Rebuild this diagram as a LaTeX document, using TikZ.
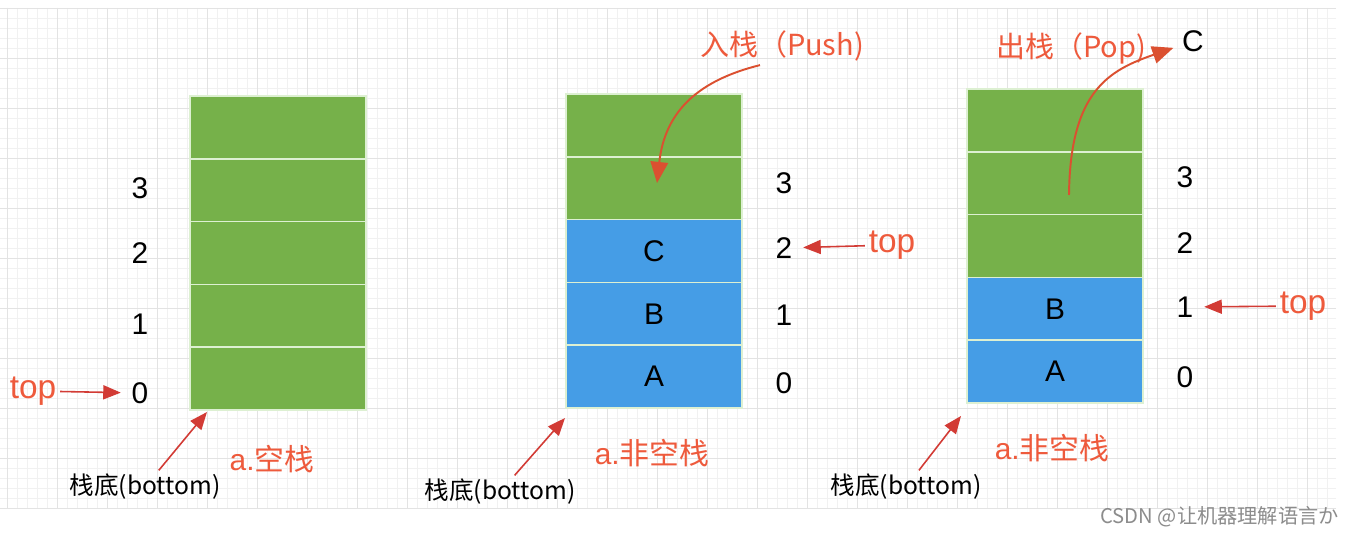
\documentclass[tikz,border=0pt]{standalone}
\usepackage{fontspec}
\setmainfont{Liberation Sans}
\newfontfamily\cjk{Noto Sans CJK SC}
\usetikzlibrary{arrows.meta,positioning}
\definecolor{Cell}{HTML}{76B14A}
\definecolor{Item}{HTML}{459DE6}
\definecolor{Seam}{HTML}{DDF0D2}
\definecolor{Hint}{HTML}{EE5A3C}
\definecolor{Tip}{HTML}{D23B35}
\definecolor{Curl}{HTML}{DB5030}
\definecolor{Grid}{HTML}{F1F1F1}
\definecolor{GridB}{HTML}{E3E3E3}
\definecolor{Mark}{HTML}{8C8C8C}
\tikzset{
  cell/.style={draw=Seam,line width=0.8pt,minimum width=3.52cm,minimum height=1.256cm,
    inner sep=0pt,font=\fontsize{17}{17}\selectfont},
  idx/.style={inner sep=2pt,font=\fontsize{17}{17}\selectfont},
  hint/.style={inner sep=2pt,text=Hint},
  ptr/.style={draw=Tip,line width=0.9pt,shorten >=4pt,-{Triangle[length=10pt,width=8pt]}},
  curl/.style={draw=Curl,line width=1.1pt,-{Triangle[length=12pt,width=10pt]}},
}
\begin{document}
\begin{tikzpicture}[x=0.02cm,y=-0.02cm]
  \useasboundingbox (0,0) rectangle (1355,536);
  \fill[white] (0,0) rectangle (1355,536);
  \foreach \x in {7,17,...,1336} \draw[Grid,line width=0.3pt] (\x,8) -- (\x,508);
  \foreach \y in {8,18,...,508} \draw[Grid,line width=0.3pt] (0,\y) -- (1336,\y);
  \foreach \x in {7,57,...,1336} \draw[GridB,line width=0.4pt] (\x,8) -- (\x,508);
  \foreach \y in {8,58,...,508} \draw[GridB,line width=0.4pt] (0,\y) -- (1336,\y);

  \foreach \i/\c/\v in {0/Cell/,1/Cell/,2/Cell/,3/Cell/,4/Cell/}
    \node[cell,fill=\c] (e\i) at (278,{96+31.4+62.8*\i}) {\v};
  \foreach \i/\c/\v in {0/Cell/,1/Cell/,2/Item/C,3/Item/B,4/Item/A}
    \node[cell,fill=\c] (u\i) at (654,{94+31.4+62.8*\i}) {\v};
  \foreach \i/\c/\v in {0/Cell/,1/Cell/,2/Cell/,3/Item/B,4/Item/A}
    \node[cell,fill=\c] (o\i) at (1055,{89+31.4+62.8*\i}) {\v};

  \foreach \n/\y in {3/188,2/253,1/324,0/393}
    \node[idx] (en\n) at (140,\y) {\n};
  \foreach \n/\y in {3/183,2/248,1/315,0/383}
    \node[idx] (un\n) at (784,\y) {\n};
  \foreach \n/\y in {3/177,2/243,1/307,0/377}
    \node[idx] (on\n) at (1185,\y) {\n};

  \node[hint,font=\fontsize{19}{19}\selectfont] (etop) at (33,391) {top};
  \node[hint,font=\fontsize{19}{19}\selectfont] (utop) at (892,245) {top};
  \node[hint,font=\fontsize{19}{19}\selectfont] (otop) at (1303,306) {top};
  \draw[ptr] (etop) -- (en0);
  \draw[ptr] (utop) -- (un2);
  \draw[ptr] (otop) -- (on1);

  \coordinate (ebase) at (207,412);
  \coordinate (ubase) at (565,418);
  \coordinate (obase) at (961,416);
  \node[inner sep=2pt,font=\fontsize{14}{14}\selectfont\cjk] (eb) at (145,487) {栈底(bottom)};
  \node[inner sep=2pt,font=\fontsize{14}{14}\selectfont\cjk] (ub) at (500,492) {栈底(bottom)};
  \node[inner sep=2pt,font=\fontsize{14}{14}\selectfont\cjk] (ob) at (906,487) {栈底(bottom)};
  \draw[ptr,shorten >=0pt] (eb) -- (ebase);
  \draw[ptr,shorten >=0pt] (ub) -- (ubase);
  \draw[ptr,shorten >=0pt] (ob) -- (obase);

  \node[hint,font=\fontsize{17}{17}\selectfont] (ecap) at (272,459) {a.{\cjk 空栈}};
  \node[hint,font=\fontsize{17}{17}\selectfont] (ucap) at (652,453) {a.{\cjk 非空栈}};
  \node[hint,font=\fontsize{17}{17}\selectfont] (ocap) at (1052,448) {a.{\cjk 非空栈}};

  \node[hint,font=\fontsize{16.5}{16.5}\selectfont\cjk] (push) at (782,46) {入栈（Push)};
  \coordinate (pushin) at (657,183);
  \draw[curl] ([xshift=-0.44cm]push.south) .. controls (700,80) and (665,110) .. (pushin);

  \node[hint,font=\fontsize{16.5}{16.5}\selectfont\cjk] (pop) at (1071,48) {出栈（Pop)};
  \node[idx] (popc) at (1193,41) {C};
  \coordinate (popout) at (1069,195);
  \draw[curl,shorten >=3pt] (popout) .. controls (1070,90) and (1110,70) .. (popc);

  \node[text=Mark,inner sep=0pt,anchor=east,font=\fontsize{11.5}{11.5}\selectfont\cjk] (mark) at (1339,517) {CSDN @让机器理解语言か};
\end{tikzpicture}
\end{document}
